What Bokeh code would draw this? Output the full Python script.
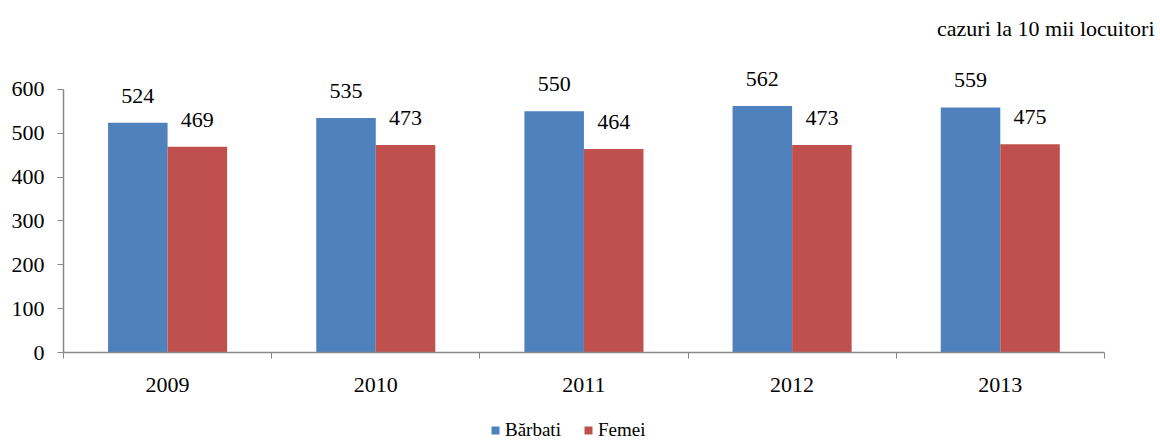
from bokeh.plotting import figure
from bokeh.layouts import column
from bokeh.models import (Range1d, FixedTicker, Legend, LegendItem, Label,
                          ColumnDataSource, LabelSet)
from bokeh.core.properties import value
from bokeh.embed import file_html
from bokeh.resources import INLINE

years = ["2009", "2010", "2011", "2012", "2013"]
barbati = [524, 535, 550, 562, 559]
femei = [469, 473, 464, 473, 475]
series_names = ["Bărbati", "Femei"]
unit_text = "cazuri la 10 mii locuitori"
y_ticks = [0, 100, 200, 300, 400, 500, 600]

BLUE = "#4F81BD"
RED = "#C0504D"
FONT = "Liberation Serif"
FONT2 = "serif"
BAR_W = 0.286
X_END = len(years) + 0.26
Y_END = 780

xs = [i + 0.5 for i in range(len(years))]
src = ColumnDataSource(dict(
    xb=[x - BAR_W / 2 for x in xs],
    xf=[x + BAR_W / 2 for x in xs],
    b=barbati, f=femei,
    bl=[str(v) for v in barbati], fl=[str(v) for v in femei],
))

p = figure(width=1160, height=405, output_backend="svg", toolbar_location=None,
           x_range=Range1d(0, X_END), y_range=Range1d(0, Y_END),
           min_border_left=63, min_border_right=2, min_border_top=10,
           min_border_bottom=53)
p.outline_line_color = None
p.grid.grid_line_color = None
p.background_fill_color = "white"

rb = p.vbar(x="xb", top="b", width=BAR_W, source=src, fill_color=BLUE, line_color=None)
rf = p.vbar(x="xf", top="f", width=BAR_W, source=src, fill_color=RED, line_color=None)

for col, top, lab in (("xb", "b", "bl"), ("xf", "f", "fl")):
    ls = LabelSet(x=col, y=top, text=lab, source=src, text_align="center",
                  text_baseline="bottom", y_offset=20, text_font=value(FONT2),
                  text_font_size="22px", text_color="black")
    p.add_layout(ls)

# x axis
p.xaxis.bounds = (0, len(years))
p.xaxis.ticker = FixedTicker(ticks=xs, minor_ticks=list(range(len(years) + 1)))
p.xaxis.major_label_overrides = {x: y for x, y in zip(xs, years)}
p.xaxis.major_tick_out = 0
p.xaxis.major_tick_in = 0
p.xaxis.minor_tick_out = 6
p.xaxis.minor_tick_in = 0
p.xaxis.minor_tick_line_color = "#888888"
p.xaxis.axis_line_color = "#888888"
p.xaxis.axis_line_width = 1.5
p.xaxis.major_label_text_font = FONT
p.xaxis.major_label_text_font_size = "22px"
p.xaxis.major_label_text_color = "black"
p.xaxis.major_label_standoff = 19

# y axis
p.yaxis.bounds = (0, y_ticks[-1])
p.yaxis.ticker = FixedTicker(ticks=y_ticks)
p.yaxis.major_tick_out = 6
p.yaxis.major_tick_in = 0
p.yaxis.minor_tick_line_color = None
p.yaxis.major_tick_line_color = "#888888"
p.yaxis.axis_line_color = "#888888"
p.yaxis.axis_line_width = 1.5
p.yaxis.major_label_text_font = FONT
p.yaxis.major_label_text_font_size = "22px"
p.yaxis.major_label_text_color = "black"
p.yaxis.major_label_standoff = 13

title = Label(x=X_END, y=Y_END, x_offset=-4, y_offset=-18, text=unit_text,
              text_align="right", text_baseline="middle", text_font=FONT,
              text_font_size="22px", text_color="black")
p.add_layout(title)

# legend strip below the chart
lg = figure(width=1160, height=36, output_backend="svg", toolbar_location=None,
            x_range=Range1d(0, X_END), y_range=Range1d(10000, 10001),
            x_axis_location=None, y_axis_location=None,
            min_border_left=0, min_border_right=0, min_border_top=0,
            min_border_bottom=0)
lg.outline_line_color = None
lg.grid.grid_line_color = None
lb = lg.vbar(x="xb", top="b", width=BAR_W, source=src, fill_color=BLUE, line_color=None)
lf = lg.vbar(x="xf", top="f", width=BAR_W, source=src, fill_color=RED, line_color=None)
legend = Legend(items=[LegendItem(label=series_names[0], renderers=[lb]),
                       LegendItem(label=series_names[1], renderers=[lf])],
                orientation="horizontal", location=(427, 0),
                glyph_width=10, glyph_height=10, spacing=22,
                label_standoff=5, border_line_color=None,
                background_fill_alpha=0, margin=0, padding=2)
legend.label_text_font = FONT2
legend.label_text_font_size = "19px"
legend.label_text_font_style = "normal"
legend.label_text_color = "black"
lg.add_layout(legend, "center")

open("out.html", "w").write(file_html(column(p, lg), INLINE))
